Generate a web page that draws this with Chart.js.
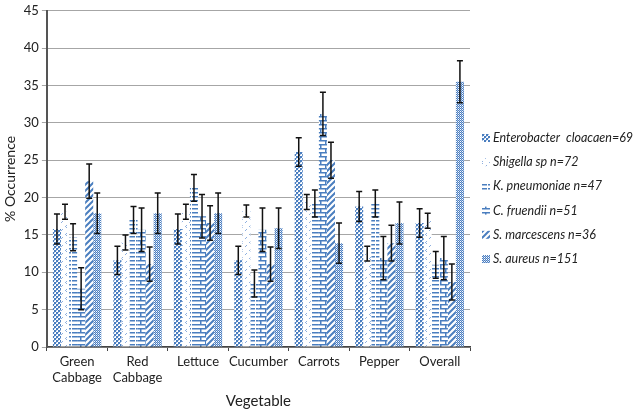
<!DOCTYPE html>
<html>
<head>
<meta charset="utf-8">
<script src="https://cdn.jsdelivr.net/npm/chart.js@4"></script>
<style>
  html, body { margin: 0; padding: 0; background: #fff; }
  #wrap { width: 638px; height: 410px; }
</style>
</head>
<body>
<div id="wrap"><canvas id="grafico"></canvas></div>
<script>
// categorias e séries
const vegetais = [['Green', 'Cabbage'], ['Red', 'Cabbage'], 'Lettuce', 'Cucumber', 'Carrots', 'Pepper', 'Overall'];
const nomesSeries = ['Enterobacter  cloacaen=69', 'Shigella sp n=72', 'K. pneumoniae n=47', 'C. fruendii n=51', 'S. marcescens n=36', 'S. aureus n=151'];

const enterobacter = [15.8, 11.6, 15.8, 11.6, 26.1, 18.8, 16.6];
const shigella     = [18.1, 14.0, 18.1, 18.2, 19.4, 12.5, 16.9];
const kpneumoniae  = [14.7, 17.0, 21.3, 8.5, 19.2, 19.2, 11.0];
const cfruendii    = [7.8, 15.7, 17.5, 15.7, 31.2, 11.9, 11.9];
const smarcescens  = [22.2, 11.1, 16.6, 11.1, 25.0, 13.9, 8.7];
const saureus      = [17.9, 17.9, 17.9, 15.9, 13.9, 16.6, 35.5];

const errEnterobacter = [2.0, 1.9, 2.0, 1.9, 1.9, 2.0, 1.9];
const errShigella     = [1.0, 1.0, 1.0, 0.8, 1.0, 1.0, 1.0];
const errKpneumoniae  = [1.8, 1.8, 1.8, 1.8, 1.8, 1.8, 1.8];
const errCfruendii    = [2.8, 2.9, 2.9, 2.9, 2.9, 2.9, 2.9];
const errSmarcescens  = [2.3, 2.3, 2.3, 2.3, 2.4, 2.4, 2.4];
const errSaureus      = [2.7, 2.7, 2.7, 2.7, 2.7, 2.8, 2.8];

const ticksY = [0, 5, 10, 15, 20, 25, 30, 35, 40, 45];

const AZUL = '#4a7ebf';
const AZUL_CLARO = '#a9c1e6';

// --- PADRÕES DE PREENCHIMENTO ---
function criarPadrao(w, h, desenhar) {
    const c = document.createElement('canvas');
    c.width = w; c.height = h;
    const g = c.getContext('2d');
    g.fillStyle = '#fff';
    g.fillRect(0, 0, w, h);
    desenhar(g);
    return document.createElement('canvas').getContext('2d').createPattern(c, 'repeat');
}

const padroes = [
    // Enterobacter: xadrez grosso
    criarPadrao(4, 4, g => {
        g.fillStyle = AZUL;
        g.fillRect(0, 0, 2, 2); g.fillRect(2, 2, 2, 2);
        g.fillStyle = AZUL_CLARO;
        g.fillRect(2, 0, 1, 1); g.fillRect(0, 2, 1, 1);
    }),
    // Shigella: marquinhas esparsas
    criarPadrao(8, 8, g => {
        g.fillStyle = '#8fb0df';
        g.fillRect(2, 1, 1, 1); g.fillRect(1, 2, 1, 1); g.fillRect(2, 3, 1, 1);
        g.fillRect(6, 5, 1, 1); g.fillRect(5, 6, 1, 1);
    }),
    // K. pneumoniae: traços horizontais
    criarPadrao(8, 4, g => {
        g.fillStyle = AZUL;
        g.fillRect(0, 0, 7, 1.5);
    }),
    // C. fruendii: tijolos
    criarPadrao(10, 8, g => {
        g.fillStyle = AZUL;
        g.fillRect(0, 0, 10, 1.5); g.fillRect(0, 4, 10, 1.5);
        g.fillRect(0, 0, 1.5, 4); g.fillRect(5, 4, 1.5, 4);
    }),
    // S. marcescens: diagonal larga
    criarPadrao(6, 6, g => {
        g.strokeStyle = AZUL;
        g.lineWidth = 2;
        g.beginPath();
        g.moveTo(-1, 7); g.lineTo(7, -1);
        g.moveTo(-4, 4); g.lineTo(4, -4);
        g.moveTo(2, 10); g.lineTo(10, 2);
        g.stroke();
    }),
    // S. aureus: xadrez miúdo
    criarPadrao(2, 2, g => {
        g.fillStyle = AZUL;
        g.fillRect(0, 0, 1, 1); g.fillRect(1, 1, 1, 1);
        g.fillStyle = AZUL_CLARO;
        g.fillRect(1, 0, 1, 1);
    })
];

const valores = [enterobacter, shigella, kpneumoniae, cfruendii, smarcescens, saureus];
const erros = [errEnterobacter, errShigella, errKpneumoniae, errCfruendii, errSmarcescens, errSaureus];

const fonte = 'Lato, "Open Sans", sans-serif';

// --- BARRAS DE ERRO ---
const barrasErro = {
    id: 'barrasErro',
    afterDatasetsDraw(chart) {
        const ctx = chart.ctx;
        const y = chart.scales.y;
        ctx.save();
        ctx.strokeStyle = '#111';
        ctx.lineWidth = 1.5;
        chart.data.datasets.forEach((ds, i) => {
            const meta = chart.getDatasetMeta(i);
            meta.data.forEach((barra, j) => {
                const e = erros[i][j];
                const v = ds.data[j];
                const y1 = y.getPixelForValue(v + e);
                const y2 = y.getPixelForValue(v - e);
                const x = barra.x;
                ctx.beginPath();
                ctx.moveTo(x, y1); ctx.lineTo(x, y2);
                ctx.moveTo(x - 3, y1); ctx.lineTo(x + 3, y1);
                ctx.moveTo(x - 3, y2); ctx.lineTo(x + 3, y2);
                ctx.stroke();
            });
        });
        ctx.restore();
    }
};

// --- LEGENDA PRÓPRIA À DIREITA ---
const legendaDireita = {
    id: 'legendaDireita',
    afterDraw(chart) {
        const ctx = chart.ctx;
        const x0 = chart.chartArea.right + 12;
        const y0 = 138;
        ctx.save();
        ctx.font = 'italic 12.5px ' + fonte;
        ctx.textBaseline = 'middle';
        chart.data.datasets.forEach((ds, i) => {
            const yy = y0 + i * 24.2;
            ctx.fillStyle = ds.backgroundColor;
            ctx.fillRect(x0, yy - 4, 8, 8);
            ctx.fillStyle = '#222';
            ctx.fillText(ds.label, x0 + 11, yy);
        });
        ctx.restore();
    }
};

new Chart(document.getElementById('grafico'), {
    type: 'bar',
    data: {
        labels: vegetais,
        datasets: nomesSeries.map((nome, i) => ({
            label: nome,
            data: valores[i],
            backgroundColor: padroes[i],
            borderWidth: 0,
            categoryPercentage: 0.8,
            barPercentage: 1.0
        }))
    },
    options: {
        responsive: true,
        maintainAspectRatio: false,
        animation: false,
        devicePixelRatio: 1,
        layout: { padding: { top: 6, right: 168, left: 2, bottom: 0 } },
        plugins: {
            legend: { display: false },
            tooltip: { enabled: false }
        },
        scales: {
            x: {
                grid: {
                    offset: true,
                    drawOnChartArea: false,
                    drawTicks: true,
                    tickLength: 4,
                    color: '#444'
                },
                border: { color: '#444', width: 1.5 },
                ticks: {
                    color: '#222',
                    font: { family: fonte, size: 13, lineHeight: 1.23 },
                    maxRotation: 0,
                    autoSkip: false,
                    padding: 3
                },
                title: {
                    display: true,
                    text: 'Vegetable',
                    color: '#222',
                    font: { family: fonte, size: 15 },
                    padding: { top: 3, bottom: 0 }
                }
            },
            y: {
                min: 0,
                max: 45,
                afterBuildTicks: axis => { axis.ticks = ticksY.map(v => ({ value: v })); },
                grid: { color: '#a6a6a6', tickLength: 5, lineWidth: 1 },
                border: { color: '#555', width: 2 },
                ticks: {
                    color: '#222',
                    font: { family: fonte, size: 13 },
                    padding: 3
                },
                title: {
                    display: true,
                    text: '% Occurrence',
                    color: '#222',
                    font: { family: fonte, size: 14 },
                    padding: { top: 0, bottom: 2 }
                }
            }
        }
    },
    plugins: [barrasErro, legendaDireita]
});
</script>
</body>
</html>
